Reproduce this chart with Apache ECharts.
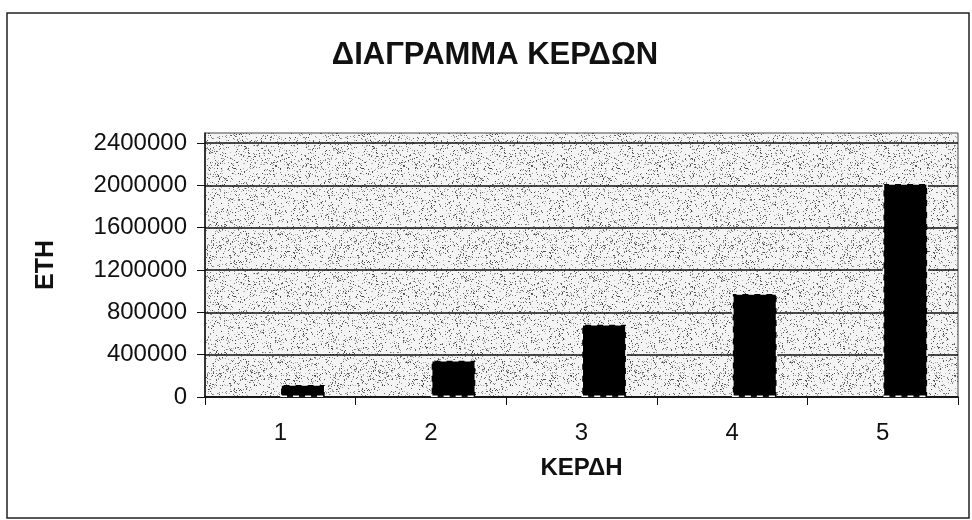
<!DOCTYPE html>
<html>
<head>
<meta charset="utf-8">
<script src="https://cdn.jsdelivr.net/npm/echarts@6/dist/echarts.min.js"></script>
<style>
html,body{margin:0;padding:0;background:#fff;}
#chart{width:972px;height:520px;}
</style>
</head>
<body>
<div id="chart"></div>
<script>
// ---- data ----
const titleText = 'ΔΙΑΓΡΑΜΜΑ ΚΕΡΔΩΝ';
const xAxisTitle = 'ΚΕΡΔΗ';
const yAxisTitle = 'ΕΤΗ';
const categories = ['1', '2', '3', '4', '5'];
const yearValues = [1, 2, 3, 4, 5];               // first (practically invisible) series
const profitValues = [120000, 350000, 690000, 980000, 2020000];
const yTickLabels = [0, 400000, 800000, 1200000, 1600000, 2000000, 2400000];

// ---- stipple texture for the plot area (style only) ----
function makePattern() {
  const c = document.createElement('canvas');
  c.width = 128; c.height = 128;
  const g = c.getContext('2d');
  g.fillStyle = '#f4f4f4';
  g.fillRect(0, 0, 128, 128);
  let s = 12345;
  function next() { s = (Math.imul(s, 1103515245) + 12345) >>> 0; return s >>> 8; }
  for (let i = 0; i < 2200; i++) {
    const x = next() % 128;
    const y = next() % 128;
    const shade = 60 + (next() % 130);
    g.fillStyle = 'rgb(' + shade + ',' + shade + ',' + shade + ')';
    g.fillRect(x, y, 1, 1);
  }
  return c;
}
const pattern = { image: makePattern(), repeat: 'repeat' };

const chart = echarts.init(document.getElementById('chart'), null, { renderer: 'canvas' });
const font = '"Liberation Sans", Arial, sans-serif';

chart.setOption({
  animation: false,
  backgroundColor: '#fff',
  title: {
    text: titleText,
    left: 490,
    top: 35,
    textAlign: 'center',
    textStyle: { fontFamily: font, fontSize: 31, fontWeight: 'bold', color: '#111' }
  },
  graphic: [{
    type: 'rect',
    shape: { x: 7, y: 13, width: 962, height: 505 },
    style: { fill: null, stroke: '#222', lineWidth: 1.5 },
    silent: true
  }],
  grid: {
    left: 205, right: 14, top: 133, bottom: 123,
    show: true,
    backgroundColor: pattern,
    borderColor: '#444',
    borderWidth: 1
  },
  xAxis: {
    type: 'category',
    data: categories,
    name: xAxisTitle,
    nameLocation: 'middle',
    nameGap: 59,
    nameTextStyle: { fontFamily: font, fontSize: 24, fontWeight: 'bold', color: '#111', verticalAlign: 'top' },
    axisLine: { show: true, lineStyle: { color: '#111', width: 1.5 } },
    axisTick: { show: true, length: 8, lineStyle: { color: '#111', width: 1 } },
    axisLabel: { margin: 24, fontFamily: font, fontSize: 24, color: '#111' },
    splitLine: { show: false }
  },
  yAxis: {
    type: 'value',
    min: 0,
    max: 2495000,
    interval: 400000,
    name: yAxisTitle,
    nameLocation: 'middle',
    nameRotate: 90,
    nameGap: 146,
    nameTextStyle: { fontFamily: font, fontSize: 25, fontWeight: 'bold', color: '#111' },
    axisLine: { show: true, lineStyle: { color: '#111', width: 1.5 } },
    axisTick: { show: true, length: 8, lineStyle: { color: '#111', width: 1 }, customValues: yTickLabels },
    axisLabel: {
      margin: 18, fontFamily: font, fontSize: 24, color: '#111',
      customValues: yTickLabels,
      formatter: function (v) { return String(v); }
    },
    splitLine: { show: true, lineStyle: { color: '#111', width: 1.5 } }
  },
  series: [
    {
      name: yAxisTitle,
      type: 'bar',
      data: yearValues,
      barGap: '0%',
      barCategoryGap: '40%',
      itemStyle: { color: '#000' }
    },
    {
      name: xAxisTitle,
      type: 'bar',
      data: profitValues,
      barGap: '0%',
      barCategoryGap: '40%',
      itemStyle: { color: '#000', borderColor: '#fff', borderWidth: 1.5, borderType: [6, 6] }
    }
  ]
});
</script>
</body>
</html>
